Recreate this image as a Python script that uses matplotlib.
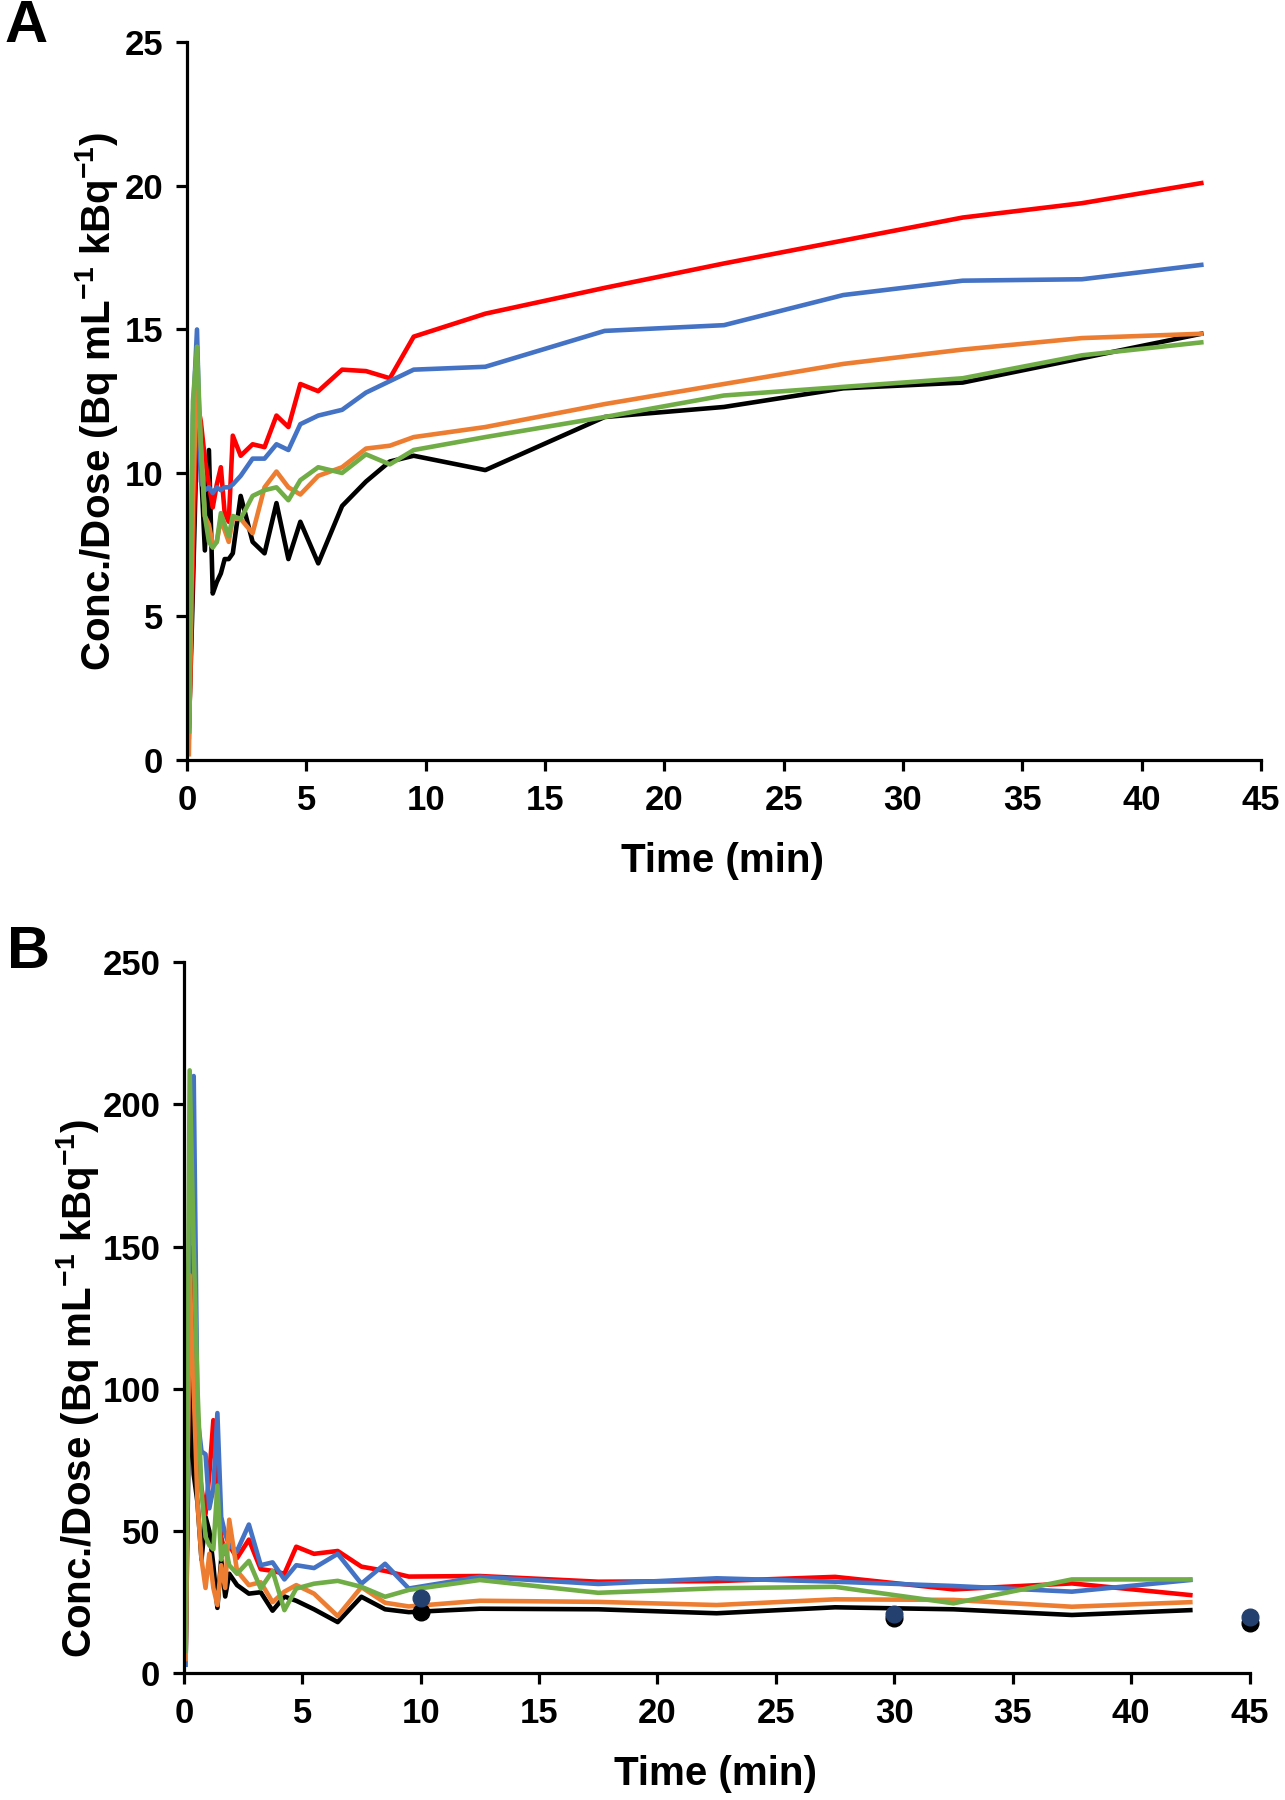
import matplotlib
matplotlib.use('Agg')
import matplotlib.pyplot as plt

plt.rcParams['font.family'] = ['Liberation Sans', 'DejaVu Sans']
plt.rcParams['font.weight'] = 'bold'
plt.rcParams['mathtext.fontset'] = 'custom'
plt.rcParams['mathtext.rm'] = 'Liberation Sans:bold'
plt.rcParams['mathtext.default'] = 'rm'

# frame mid-times (min)
t = [0.08, 0.25, 0.42, 0.58, 0.75, 0.92, 1.08, 1.25, 1.42, 1.58, 1.75, 1.92,
     2.25, 2.75, 3.25, 3.75, 4.25, 4.75, 5.5, 6.5, 7.5, 8.5, 9.5,
     12.5, 17.5, 22.5, 27.5, 32.5, 37.5, 42.5]

# panel A
a_black = [1.0, 6.0, 11.5, 10.3, 7.3, 10.8, 5.8, 6.2, 6.5, 7.0, 7.0, 7.2, 9.2, 7.6, 7.2,
           8.95, 7.0, 8.3, 6.85, 8.85, 9.7, 10.4, 10.6, 10.1, 11.95, 12.3, 12.95, 13.15, 14.0, 14.85]
a_red = [0.8, 7.0, 12.5, 11.8, 10.5, 9.6, 8.8, 9.6, 10.2, 8.6, 8.3, 11.3, 10.6, 11.0, 10.9,
         12.0, 11.6, 13.1, 12.85, 13.6, 13.55, 13.3, 14.75, 15.55, 16.45, 17.3, 18.1, 18.9, 19.4, 20.1]
a_blue = [1.5, 12.0, 15.0, 9.7, 9.4, 9.5, 9.3, 9.5, 9.4, 9.5, 9.5, 9.6, 9.9, 10.5, 10.5,
          11.0, 10.8, 11.7, 12.0, 12.2, 12.8, 13.2, 13.6, 13.7, 14.95, 15.15, 16.2, 16.7, 16.75, 17.25]
a_orange = [0.2, 9.0, 13.5, 11.0, 8.5, 8.2, 7.5, 7.6, 8.4, 8.0, 7.6, 8.4, 8.4, 7.9, 9.5,
            10.05, 9.5, 9.25, 9.9, 10.2, 10.85, 10.95, 11.25, 11.6, 12.4, 13.1, 13.8, 14.3, 14.7, 14.85]
a_green = [1.0, 12.5, 14.4, 11.0, 8.5, 7.6, 7.4, 7.6, 8.6, 8.2, 7.8, 8.5, 8.4, 9.2, 9.4,
           9.5, 9.05, 9.75, 10.2, 10.0, 10.65, 10.3, 10.8, 11.25, 11.95, 12.7, 13.0, 13.3, 14.1, 14.55]

# panel B
b_black = [5, 108, 70, 60, 40, 55, 50, 38, 23, 40, 27, 35, 31, 28, 28.5,
           22, 27, 25.5, 22.5, 18, 26.9, 22.5, 21.5, 22.7, 22.5, 21.1, 23.2, 22.5, 20.5, 22.2]
b_red = [5, 150, 100, 77, 65, 56, 70, 89, 60, 48, 42, 45, 40.5, 47, 36.6,
         36, 35, 44.5, 42, 43, 37.5, 36, 34, 34.2, 32.2, 32.4, 33.9, 29.5, 31.6, 27.5]
b_blue = [3, 157, 210, 90, 78, 77, 58, 65, 91.5, 55, 49, 45, 43, 52.3, 38,
          39, 33, 38, 37, 42, 31.5, 38.5, 29.8, 33.9, 31.4, 33.4, 32.2, 30.7, 28.7, 32.8]
b_orange = [5, 140, 100, 60, 40, 30, 42, 30, 24, 38, 30, 54, 36, 31, 32,
            25, 28.7, 31, 28, 20.1, 30.3, 24.8, 23.5, 25.5, 25.1, 24.0, 26.0, 25.8, 23.4, 25.0]
b_green = [8, 212, 150, 100, 64, 48, 45, 43.6, 66, 40, 45, 38, 35, 39.5, 29.8,
           36, 22.2, 29.8, 31.5, 32.5, 30.4, 26.9, 29.3, 32.8, 28.3, 29.9, 30.4, 24.6, 33.0, 33.0]

dot_t = [10, 30, 45]
dot_black = [21.6, 19.3, 17.8]
dot_navy = [26.3, 21.0, 19.9]

colors = {'black': '#000000', 'red': '#FF0000', 'blue': '#4472C4',
          'orange': '#ED7D31', 'green': '#70AD47'}

ylabel = r'Conc./Dose (Bq mL$^{-1}$ kBq$^{-1}$)'

fig = plt.figure(figsize=(12.85, 18), dpi=100)
axA = fig.add_axes([0.1455, 0.5778, 0.8358, 0.3986])
axB = fig.add_axes([0.143, 0.0704, 0.8294, 0.395])


def style(ax, ymax, ystep, ylab_x, ylab_y):
    for s in ['top', 'right']:
        ax.spines[s].set_visible(False)
    for s in ['left', 'bottom']:
        ax.spines[s].set_linewidth(2.3)
    ax.set_xlim(0, 45)
    ax.set_ylim(0, ymax)
    ax.set_xticks(range(0, 46, 5))
    ax.set_yticks(range(0, ymax + 1, ystep))
    ax.tick_params(direction='out', length=8, width=2.3, labelsize=25, pad=9)
    for lab in ax.get_xticklabels() + ax.get_yticklabels():
        lab.set_fontweight('bold')
    ax.set_xlabel('Time (min)', fontsize=29, fontweight='bold')
    ax.set_ylabel(ylabel, fontsize=29, fontweight='bold')
    ax.xaxis.set_label_coords(0.499, -0.115)
    ax.yaxis.set_label_coords(ylab_x, ylab_y)


lw = 3.3
for ax, series in [(axA, [a_black, a_red, a_blue, a_orange, a_green]),
                   (axB, [b_black, b_red, b_blue, b_orange, b_green])]:
    for key, ys in zip(['black', 'red', 'blue', 'orange', 'green'], series):
        ax.plot(t, ys, color=colors[key], lw=lw, clip_on=False)

axB.plot(dot_t, dot_black, 'o', color='black', ms=12, clip_on=False, zorder=5)
axB.plot(dot_t, dot_navy, 'o', color='#24406E', ms=12, clip_on=False, zorder=6)

style(axA, 25, 5, -0.062, 0.5)
style(axB, 250, 50, -0.078, 0.40)

fig.text(0.0202, 0.985, 'A', fontsize=43, fontweight='bold', ha='center', va='center')
fig.text(0.0218, 0.471, 'B', fontsize=43, fontweight='bold', ha='center', va='center')

fig.savefig('out.png', dpi=100)
